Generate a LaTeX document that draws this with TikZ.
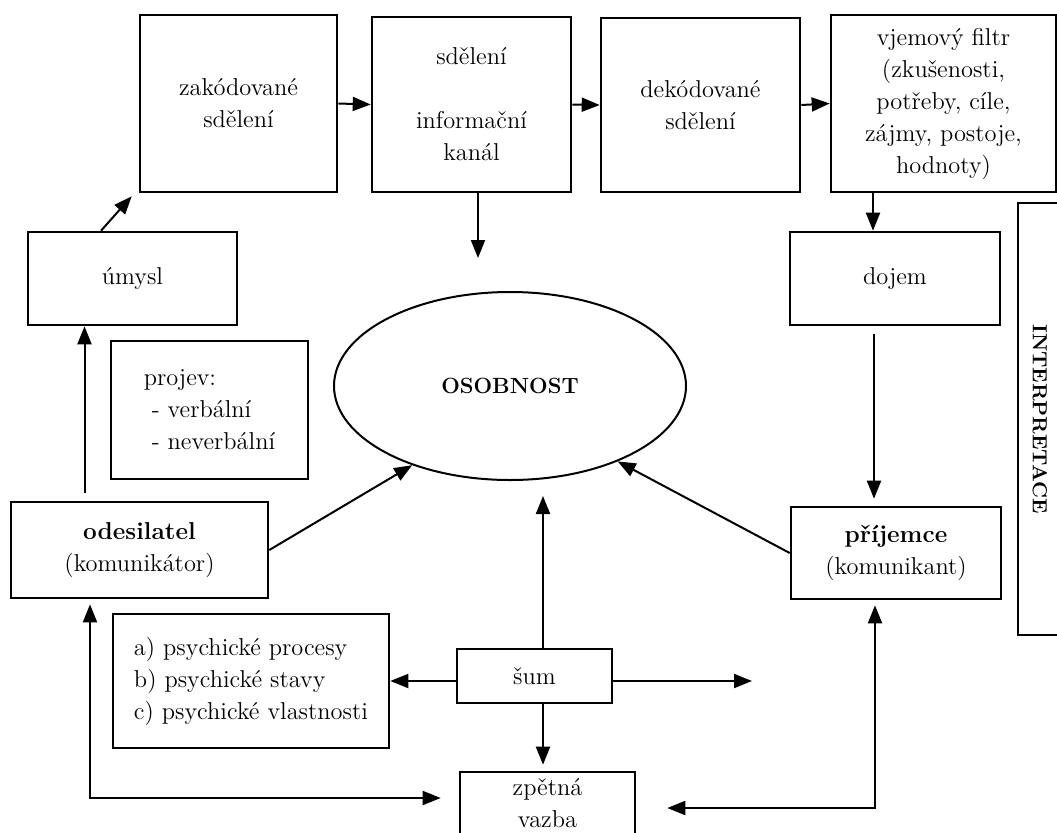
\documentclass[tikz,border=0pt]{standalone}
\usepackage{fontspec}
\usetikzlibrary{arrows.meta,shapes.geometric,calc}

\begin{document}
\begin{tikzpicture}[x=0.5pt, y=-0.5pt, font=\fontsize{12.2}{16}\selectfont,
    box/.style={draw, line width=1.3pt, align=center, inner sep=0pt},
    arr/.style={line width=1pt, -{Triangle[length=9pt,width=7pt]}},
    arrs/.style={line width=1pt, {Triangle[length=9pt,width=7pt]}-{Triangle[length=9pt,width=7pt]}}]
    \useasboundingbox (0,0) rectangle (1057,832);
    \clip (0,0) rectangle (1057,832);

    % Top row
    \node[box, minimum width=98.5pt, minimum height=88.5pt] (zak) at (238.5,103.5) {zakódované\\sdělení};
    \node[box, minimum width=99.5pt, minimum height=87.5pt] (sdel) at (471.5,104.5) {sdělení\\[16pt]informační\\kanál};
    \node[box, minimum width=99.5pt, minimum height=87pt] (dek) at (700.5,105) {dekódované\\sdělení};
    \node[box, minimum width=112.5pt, minimum height=88.5pt] (vjem) at (943.5,103.5) {vjemový filtr\\(zkušenosti,\\potřeby, cíle,\\zájmy, postoje,\\hodnoty)};

    % Side boxes
    \node[box, minimum width=104.5pt, minimum height=46.5pt] (umysl) at (132.5,278.5) {úmysl};
    \node[box, minimum width=105pt, minimum height=46.5pt] (dojem) at (895,278.5) {dojem};
    \node[box, minimum width=98.5pt, minimum height=69pt, align=left] (projev) at (209.5,410) {projev:\\\hspace*{4pt}- verbální\\\hspace*{4pt}- neverbální};
    \node[ellipse, draw, line width=1pt, minimum width=176pt, minimum height=94pt, inner sep=0pt,
        font=\fontsize{11}{13}\selectfont\bfseries] (osob) at (510,386) {OSOBNOST};
    \node[box, minimum width=128.5pt, minimum height=48pt] (odes) at (139.5,550) {\textbf{odesilatel}\\(komunikátor)};
    \node[box, minimum width=105pt, minimum height=46pt] (prij) at (896,553) {\textbf{příjemce}\\(komunikant)};
    \node[box, rotate=-90, minimum width=216pt, minimum height=22pt,
        font=\fontsize{10.2}{12}\selectfont\bfseries] (interp) at (1040,419) {INTERPRETACE};

    % Bottom part
    \node[box, minimum width=138pt, minimum height=67pt, align=left] (psych) at (251,681) {a) psychické procesy\\b) psychické stavy\\c) psychické vlastnosti};
    \node[box, minimum width=77.5pt, minimum height=27pt] (sum) at (534.5,676) {šum};
    \node[box, minimum width=87.5pt, minimum height=31pt] (zpet) at (547.5,803) {zpětná\\vazba};
    \coordinate (noise) at (752,681);

    % Message chain
    \draw[arr] ($(umysl.north)+(-31.5,0)$) -- ([shift={(-7,3)}]zak.south west);
    \draw[arr] (zak.east) -- (sdel.west);
    \draw[arr] (sdel.east) -- (dek.west);
    \draw[arr] (dek.east) -- (vjem.west);
    \draw[arr, shorten >=16.5pt] ([xshift=3.25pt]sdel.south) -- ([xshift=3.25pt]sdel.south |- osob.north);
    \draw[arr] ([xshift=-11pt]dojem.north |- vjem.south) -- ([xshift=-11pt]dojem.north);
    \draw[arr, shorten <=4pt, shorten >=3.5pt] ([xshift=-10.5pt]dojem.south) -- ([xshift=-10.5pt]dojem.south |- prij.north);
    \draw[arr, shorten <=4pt] ([xshift=-24pt]umysl.south |- odes.north) -- ([xshift=-24pt]umysl.south);

    % Into the personality
    \draw[arr] (odes.east) -- (osob.219);
    \draw[arr] (prij.west) -- (osob.325);
    \draw[arr, shorten >=7.5pt] ([xshift=4.25pt]sum.north) -- ([xshift=4.25pt]sum.north |- osob.south);

    % Noise and feedback
    \draw[arr] (sum.west |- psych.east) -- (psych.east);
    \draw[arr] (sum.east |- noise) -- (noise);
    \draw[arr, shorten >=3pt] ([xshift=4.25pt]sum.south) -- ([xshift=4.25pt]sum.south |- zpet.north);
    \draw[arrs, shorten <=2.5pt, shorten >=9pt] ([xshift=-24.75pt]odes.south) |- ([yshift=2.5pt]zpet.west);
    \draw[arrs, shorten <=2.5pt, shorten >=15.5pt] ([xshift=-10.5pt]prij.south) |- ([yshift=-2.5pt]zpet.east);
\end{tikzpicture}
\end{document}
